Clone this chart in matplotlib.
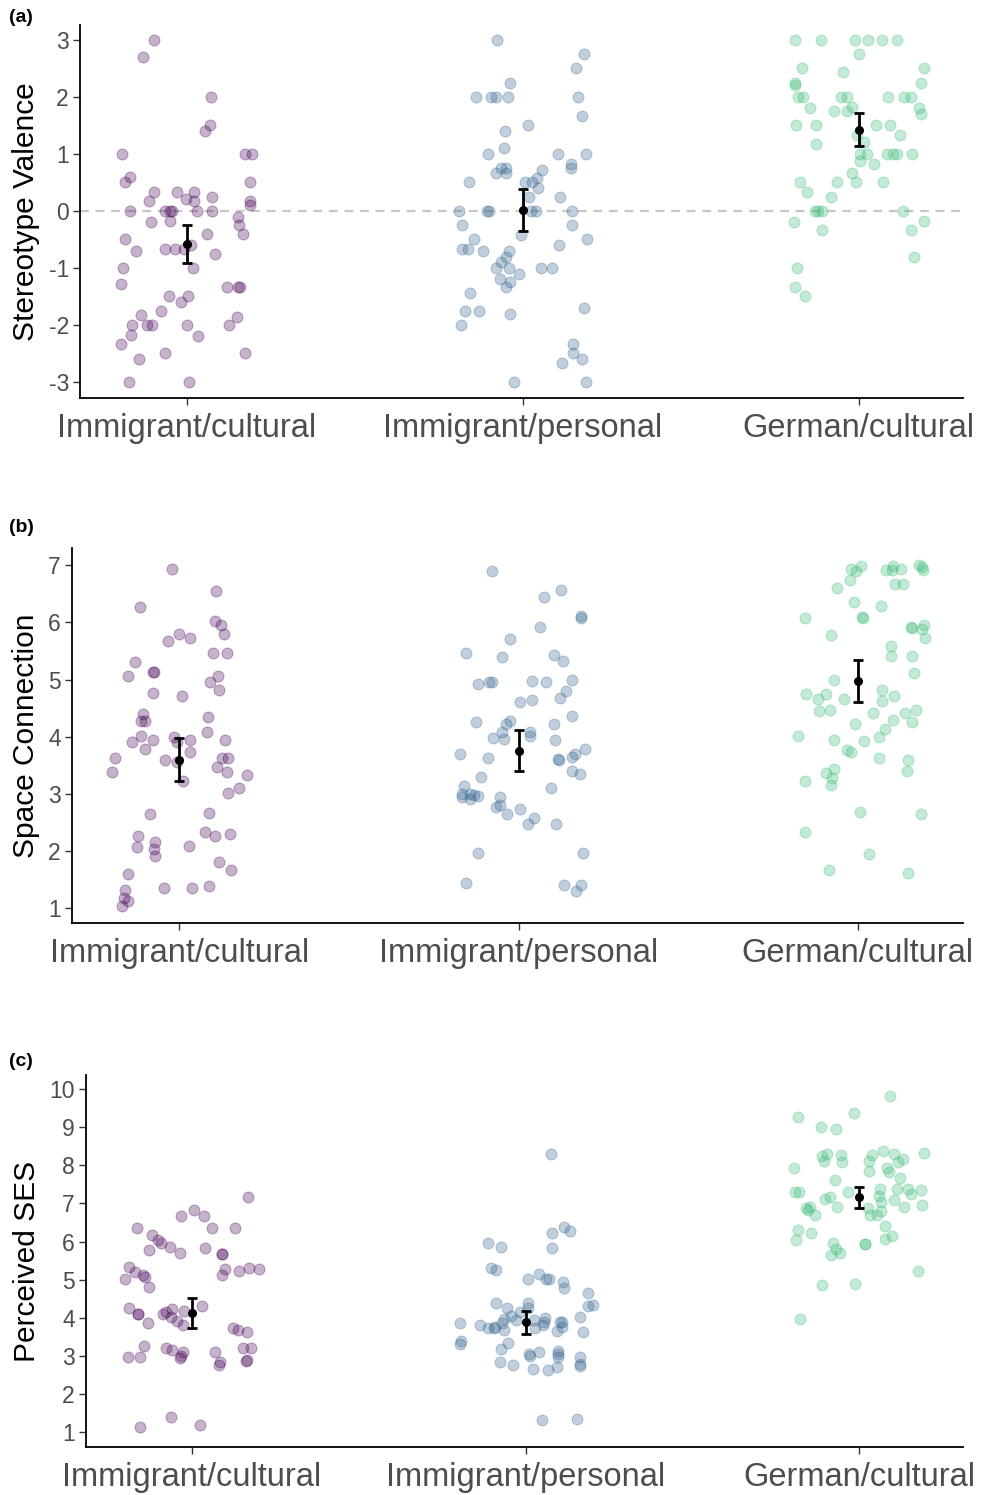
import matplotlib
matplotlib.use("Agg")
import matplotlib.pyplot as plt
import numpy as np

plt.rcParams['font.family'] = ['Liberation Sans', 'DejaVu Sans']

groups = ["Immigrant/cultural", "Immigrant/personal", "German/cultural"]
colors = ["#440154", "#33638D", "#3ABA76"]

# --- panel (a): Stereotype Valence (jitter offset, value) ---
a_ic_dx = [-0.097, -0.130, 0.073, 0.069, 0.054, -0.193, 0.174, 0.196, -0.169, -0.184, 0.188, -0.097,
           -0.028, 0.021, -0.113, -0.003, 0.021, 0.076, 0.188, 0.188, -0.167, -0.063, -0.048, -0.043,
           0.032, 0.076, -0.048, -0.105, 0.153, 0.155, 0.168, 0.060, -0.184, -0.149, -0.064, -0.033,
           -0.008, 0.012, 0.086, 0.020, -0.190, -0.194, 0.121, 0.153, 0.158, -0.053, 0.004, -0.017,
           -0.077, -0.137, -0.162, -0.117, -0.102, 0.002, 0.126, 0.151, -0.165, 0.034, -0.196, -0.141,
           -0.063, 0.174, -0.172, 0.007]
a_ic_y = [3, 2.7, 2, 1.5, 1.4, 1, 1, 1, 0.6, 0.5, 0.5, 0.33,
          0.33, 0.33, 0.17, 0.2, 0.17, 0.25, 0.17, 0.1, 0, 0, 0, 0,
          0, 0, -0.17, -0.2, -0.1, -0.25, -0.4, -0.4, -0.5, -0.71, -0.67, -0.67,
          -0.67, -0.6, -0.75, -1, -1, -1.29, -1.33, -1.33, -1.33, -1.5, -1.5, -1.6,
          -1.75, -1.83, -2, -2, -2, -2, -2, -1.86, -2.17, -2.2, -2.33, -2.6,
          -2.5, -2.5, -3, -3]
a_ip_dx = [-0.075, 0.184, 0.160, -0.036, -0.140, -0.095, -0.080, -0.043, 0.164, 0.178, 0.015, -0.052,
           -0.056, -0.102, 0.105, 0.190, 0.144, 0.145, -0.065, -0.048, -0.078, -0.050, 0.058, 0.044,
           0.029, 0.007, 0.047, -0.160, 0.019, 0.110, -0.188, -0.105, -0.100, 0.024, 0.039, 0.148,
           -0.180, 0.148, -0.006, 0.193, -0.145, -0.179, -0.163, -0.118, 0.107, -0.041, -0.050, -0.063,
           -0.080, -0.039, -0.010, 0.056, 0.089, -0.066, -0.037, -0.048, -0.156, -0.172, -0.129, -0.038,
           0.183, -0.183, 0.149, 0.149, 0.178, 0.118, -0.024, 0.190]
a_ip_y = [3, 2.75, 2.5, 2.25, 2, 2, 2, 2, 2, 1.67, 1.5, 1.4,
          1.1, 1, 1, 1, 0.83, 0.75, 0.75, 0.75, 0.67, 0.67, 0.71, 0.58,
          0.5, 0.5, 0.4, 0.5, 0.25, 0.25, 0, 0, 0, 0, 0, 0,
          -0.25, -0.25, -0.42, -0.5, -0.5, -0.67, -0.67, -0.7, -0.6, -0.7, -0.8, -0.9,
          -1, -1, -1.1, -1, -1, -1.2, -1.25, -1.33, -1.44, -1.75, -1.75, -1.8,
          -1.7, -2, -2.33, -2.5, -2.6, -2.67, -3, -3]
a_gc_dx = [-0.188, -0.111, -0.011, 0.027, 0.070, 0.114, 0.000, -0.169, 0.196, -0.046, 0.187, -0.188,
           -0.189, -0.180, -0.165, -0.053, -0.034, 0.088, 0.135, 0.156, -0.146, -0.019, -0.072, -0.034,
           0.180, 0.185, -0.187, -0.126, 0.051, 0.093, 0.122, -0.004, 0.017, -0.126, 0.003, 0.024,
           0.086, 0.102, 0.113, 0.159, 0.004, 0.045, -0.019, -0.173, -0.064, -0.008, 0.072, -0.154,
           -0.082, -0.131, -0.120, -0.108, 0.133, -0.193, -0.110, 0.196, 0.157, 0.164, -0.183, -0.188,
           -0.160]
a_gc_y = [3, 3, 3, 3, 3, 3, 2.75, 2.5, 2.5, 2.43, 2.25, 2.25,
          2.2, 2, 2, 2, 2, 2, 2, 2, 1.8, 1.83, 1.75, 1.75,
          1.8, 1.7, 1.5, 1.5, 1.5, 1.5, 1.33, 1.33, 1.2, 1.17, 1, 1,
          1, 1, 1, 1, 0.87, 0.83, 0.67, 0.5, 0.5, 0.5, 0.5, 0.33,
          0.25, 0, 0, 0, 0, -0.2, -0.33, -0.17, -0.33, -0.8, -1, -1.33,
          -1.5]

# --- panel (b): Space Connection ---
b_ic_dx = [-0.021, 0.108, -0.117, 0.106, 0.122, 0.130, -0.002, 0.032, -0.033, 0.098, 0.140, -0.130,
           -0.078, -0.076, -0.152, 0.114, 0.091, 0.116, -0.078, 0.006, -0.109, -0.112, -0.102, 0.083,
           0.081, -0.112, -0.141, -0.078, -0.016, -0.008, 0.031, 0.032, 0.134, -0.102, -0.189, -0.198,
           -0.044, -0.008, 0.124, 0.142, 0.110, 0.139, 0.009, 0.198, 0.175, 0.144, -0.088, 0.087,
           0.075, 0.106, 0.148, -0.122, -0.125, -0.073, -0.076, -0.072, 0.027, 0.118, 0.152, -0.152,
           -0.047, 0.038, 0.086, -0.161, -0.163, -0.152, -0.169]
b_ic_y = [6.94, 6.55, 6.27, 6.03, 5.96, 5.8, 5.79, 5.72, 5.68, 5.47, 5.47, 5.3,
          5.13, 5.13, 5.06, 5.06, 4.96, 4.81, 4.77, 4.71, 4.39, 4.28, 4.28, 4.34,
          4.08, 4.02, 3.9, 3.94, 4.0, 3.9, 3.94, 3.74, 3.94, 3.78, 3.63, 3.39,
          3.59, 3.56, 3.62, 3.62, 3.47, 3.39, 3.22, 3.33, 3.11, 3.02, 2.64, 2.66,
          2.34, 2.27, 2.3, 2.27, 2.07, 2.15, 2.04, 1.91, 2.09, 1.8, 1.67, 1.59,
          1.36, 1.36, 1.39, 1.31, 1.17, 1.13, 1.04]
b_ip_dx = [-0.078, 0.126, 0.075, 0.183, 0.183, 0.062, -0.024, -0.156, -0.048, 0.104, 0.130, -0.121,
           -0.088, -0.078, 0.040, 0.080, 0.156, 0.141, 0.122, 0.004, 0.039, 0.157, -0.125, 0.104,
           -0.026, -0.036, -0.048, 0.033, 0.033, -0.077, -0.043, 0.106, -0.174, -0.090, 0.116, 0.119,
           0.157, 0.165, 0.195, 0.157, 0.181, -0.111, -0.161, -0.168, -0.168, -0.144, -0.132, -0.120,
           -0.144, 0.095, -0.055, -0.056, -0.067, -0.033, 0.005, 0.044, 0.028, 0.109, -0.121, 0.191,
           -0.156, 0.134, 0.184, 0.168]
b_ip_y = [6.9, 6.57, 6.45, 6.11, 6.08, 5.92, 5.71, 5.46, 5.4, 5.43, 5.33, 4.92,
          4.95, 4.95, 4.98, 4.96, 5.0, 4.8, 4.67, 4.6, 4.64, 4.37, 4.26, 4.22,
          4.27, 4.22, 4.08, 4.08, 4.02, 3.97, 3.96, 3.94, 3.69, 3.62, 3.61, 3.59,
          3.65, 3.69, 3.78, 3.4, 3.34, 3.29, 3.13, 2.99, 2.95, 3.0, 2.98, 2.97,
          2.91, 3.1, 2.94, 2.81, 2.77, 2.65, 2.74, 2.57, 2.48, 2.48, 1.96, 1.96,
          1.44, 1.41, 1.4, 1.3]
b_gc_dx = [-0.019, 0.009, -0.006, -0.024, 0.083, 0.104, 0.100, 0.127, 0.181, 0.188, 0.191, 0.109,
           0.134, -0.062, -0.011, 0.068, -0.156, 0.013, 0.015, 0.156, 0.160, 0.194, 0.188, 0.197,
           -0.080, 0.099, 0.097, 0.159, 0.167, -0.070, -0.153, -0.117, -0.093, -0.040, 0.071, 0.071,
           0.106, -0.113, -0.081, 0.046, 0.139, 0.171, 0.159, 0.103, -0.007, 0.081, -0.175, -0.071,
           0.018, 0.062, -0.032, -0.019, 0.062, 0.148, 0.144, -0.070, -0.093, -0.077, -0.079, -0.155,
           0.005, 0.187, -0.155, 0.032, -0.085, 0.148]
b_gc_y = [6.94, 6.98, 6.9, 6.75, 6.91, 6.98, 6.92, 6.94, 7.0, 6.97, 6.92, 6.67,
          6.67, 6.6, 6.36, 6.29, 6.08, 6.1, 6.08, 5.92, 5.9, 5.95, 5.89, 5.72,
          5.78, 5.59, 5.42, 5.41, 5.12, 4.99, 4.74, 4.66, 4.74, 4.66, 4.81, 4.62,
          4.71, 4.45, 4.47, 4.41, 4.41, 4.46, 4.26, 4.3, 4.22, 4.13, 4.01, 3.94,
          3.93, 4.0, 3.76, 3.74, 3.63, 3.6, 3.4, 3.43, 3.37, 3.27, 3.15, 3.22,
          2.68, 2.64, 2.34, 1.94, 1.66, 1.62]

# --- panel (c): Perceived SES ---
c_ic_dx = [0.168, 0.007, -0.031, 0.036, -0.163, 0.059, 0.129, -0.119, -0.101, -0.093, -0.064, -0.127,
           -0.035, 0.039, 0.089, 0.089, 0.099, 0.089, 0.141, 0.171, 0.200, -0.188, -0.171, -0.146,
           -0.141, -0.200, -0.127, -0.189, -0.161, -0.161, -0.132, -0.086, -0.076, -0.059, -0.061, -0.044,
           -0.026, -0.024, 0.031, 0.122, 0.137, 0.165, -0.143, -0.192, -0.154, -0.078, -0.060, -0.026,
           -0.031, -0.036, 0.068, 0.084, 0.081, 0.154, 0.176, 0.161, 0.165, -0.061, -0.154, 0.025]
c_ic_y = [7.18, 6.84, 6.67, 6.66, 6.35, 6.35, 6.35, 6.17, 6.04, 5.97, 5.85, 5.77,
          5.7, 5.83, 5.67, 5.67, 5.29, 5.12, 5.23, 5.32, 5.28, 5.34, 5.21, 5.12,
          5.08, 5.03, 4.81, 4.26, 4.1, 4.1, 3.87, 4.09, 4.15, 4.24, 4.03, 3.91,
          3.82, 4.17, 4.3, 3.73, 3.67, 3.63, 3.26, 2.97, 2.98, 3.2, 3.15, 3.09,
          3.0, 2.94, 3.11, 2.85, 2.77, 3.2, 3.2, 2.87, 2.9, 1.41, 1.13, 1.2]
c_ip_dx = [0.077, 0.116, 0.132, 0.079, -0.112, -0.074, 0.080, -0.103, -0.090, 0.008, 0.041, 0.061,
           0.069, 0.113, 0.116, 0.187, 0.188, 0.201, 0.163, -0.088, -0.056, 0.007, 0.007, -0.018,
           -0.044, -0.066, -0.071, -0.030, -0.096, -0.113, -0.138, -0.066, -0.091, -0.198, 0.026, 0.029,
           0.052, 0.059, 0.054, 0.104, 0.110, 0.109, 0.094, 0.172, -0.193, -0.196, -0.054, -0.073,
           0.010, 0.012, 0.041, 0.096, 0.098, 0.096, 0.163, 0.162, 0.162, -0.078, -0.037, 0.022,
           0.067, 0.094, 0.050, 0.155]
c_ip_y = [8.3, 6.39, 6.27, 6.23, 5.96, 5.85, 5.82, 5.32, 5.26, 5.02, 5.15, 5.03,
          5.03, 4.93, 4.77, 4.65, 4.31, 4.34, 4.03, 4.38, 4.27, 4.38, 4.25, 4.15,
          4.05, 3.97, 3.87, 3.94, 3.74, 3.72, 3.82, 3.68, 3.75, 3.86, 3.94, 3.74,
          3.82, 4.0, 3.9, 3.89, 3.88, 3.76, 3.65, 3.63, 3.38, 3.32, 3.35, 3.19,
          3.06, 3.01, 3.09, 3.14, 3.06, 2.98, 2.96, 2.8, 2.74, 2.83, 2.77, 2.67,
          2.62, 2.7, 1.31, 1.34]
c_gc_dx = [0.093, -0.185, -0.015, -0.116, -0.069, 0.195, -0.112, -0.097, -0.105, -0.056, -0.052, 0.038,
           0.070, 0.104, 0.131, 0.115, 0.030, 0.030, 0.084, 0.090, 0.123, -0.196, -0.074, -0.192,
           -0.182, -0.035, -0.104, -0.088, -0.068, -0.160, -0.148, -0.154, -0.134, 0.062, 0.058, 0.066,
           0.066, 0.053, 0.033, 0.025, 0.113, 0.105, 0.146, 0.156, 0.185, 0.188, 0.134, 0.078,
           0.076, 0.098, -0.185, -0.190, -0.144, -0.078, -0.071, -0.059, -0.086, 0.018, 0.018, 0.177,
           -0.112, -0.014, -0.177]
c_gc_y = [9.83, 9.27, 9.38, 9.01, 8.95, 8.33, 8.24, 8.31, 8.12, 8.26, 8.09, 8.28,
          8.37, 8.29, 8.18, 8.08, 8.11, 7.86, 7.93, 7.82, 7.68, 7.93, 7.61, 7.3,
          7.29, 7.3, 7.11, 7.18, 6.91, 6.87, 6.9, 6.83, 6.69, 7.38, 7.2, 7.04,
          6.81, 6.69, 6.69, 6.87, 7.38, 7.1, 7.38, 7.24, 7.36, 6.97, 6.91, 6.41,
          6.08, 6.15, 6.31, 6.03, 6.23, 5.96, 5.8, 5.71, 5.65, 5.94, 5.94, 5.23,
          4.86, 4.88, 3.98]

# group means and interval ends (lo, hi)
a_mean = [-0.58, 0.01, 1.42]
a_lo = [-0.91, -0.36, 1.13]
a_hi = [-0.25, 0.38, 1.71]
b_mean = [3.6, 3.75, 4.97]
b_lo = [3.22, 3.4, 4.6]
b_hi = [3.97, 4.11, 5.34]
c_mean = [4.13, 3.88, 7.16]
c_lo = [3.73, 3.58, 6.89]
c_hi = [4.53, 4.19, 7.42]

panels = [
    dict(tag="(a)", tag_y=18, ylabel="Stereotype Valence", rect=[0.0814, 0.7338, 0.898, 0.2495],
         ylim=(-3.28, 3.26), yticks=range(-3, 4),
         pts=[(a_ic_dx, a_ic_y), (a_ip_dx, a_ip_y), (a_gc_dx, a_gc_y)],
         mean=a_mean, lo=a_lo, hi=a_hi, zero=True),
    dict(tag="(b)", tag_y=528, ylabel="Space Connection", rect=[0.0732, 0.3826, 0.9064, 0.2508],
         ylim=(0.74, 7.3), yticks=range(1, 8),
         pts=[(b_ic_dx, b_ic_y), (b_ip_dx, b_ip_y), (b_gc_dx, b_gc_y)],
         mean=b_mean, lo=b_lo, hi=b_hi, zero=False),
    dict(tag="(c)", tag_y=1062, ylabel="Perceived SES", rect=[0.0875, 0.0321, 0.892, 0.2488],
         ylim=(0.61, 10.37), yticks=range(1, 11),
         pts=[(c_ic_dx, c_ic_y), (c_ip_dx, c_ip_y), (c_gc_dx, c_gc_y)],
         mean=c_mean, lo=c_lo, hi=c_hi, zero=False),
]

fig = plt.figure(figsize=(9.83, 14.95), dpi=100)

for p in panels:
    ax = fig.add_axes(p["rect"])
    if p["zero"]:
        ax.axhline(0, color="#c8c8c8", ls=(0, (4, 3)), lw=1.6, zorder=1)
    for i, (dx, y) in enumerate(p["pts"]):
        ax.scatter(np.array(dx) + i + 1, y, s=62, color=colors[i], alpha=0.3,
                   edgecolors=colors[i], linewidths=0.8, zorder=2)
    xs = np.arange(1, 4)
    m = np.array(p["mean"])
    err = [m - np.array(p["lo"]), np.array(p["hi"]) - m]
    ax.errorbar(xs, m, yerr=err, fmt="o", color="black", ms=5.5, elinewidth=2,
                capsize=3.3, capthick=2, zorder=3)
    ax.set_xlim(0.683, 3.31)
    ax.set_ylim(*p["ylim"])
    ax.set_xticks(xs)
    ax.set_xticklabels(groups, fontsize=23.5, color="#4d4d4d")
    ax.set_yticks(list(p["yticks"]))
    ax.set_yticklabels([str(t) for t in p["yticks"]], fontsize=16.5, color="#4d4d4d")
    ax.tick_params(axis="both", length=5, width=1, color="#333333", pad=3)
    ax.tick_params(axis="x", pad=6)
    ax.set_ylabel(p["ylabel"], fontsize=21.5, labelpad=6)
    for s in ["top", "right"]:
        ax.spines[s].set_visible(False)
    for s in ["left", "bottom"]:
        ax.spines[s].set_linewidth(1.3)
    fig.text(0.009, 1 - p["tag_y"] / 1495, p["tag"], fontsize=14, fontweight="bold",
             va="center", ha="left")

fig.savefig("out.png", dpi=100)
